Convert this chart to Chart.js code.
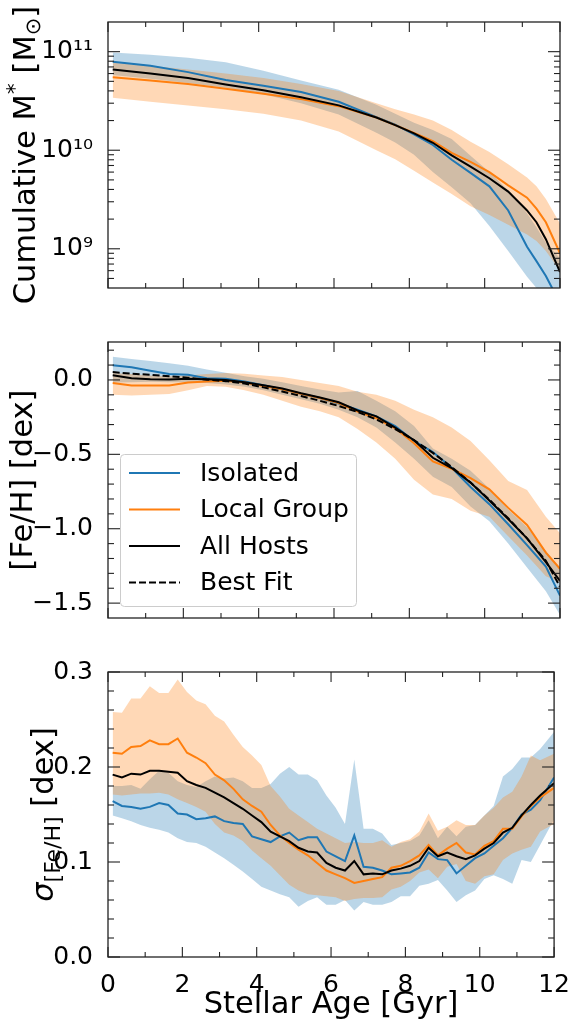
<!DOCTYPE html>
<html>
<head>
<meta charset="utf-8">
<title>Stellar age relations</title>
<script src="https://cdn.jsdelivr.net/npm/chart.js@4.4.1/dist/chart.umd.min.js"></script>
<style>
  body { margin: 0; background: #fff; }
  canvas { position: absolute; left: 0; }
</style>
</head>
<body>
<canvas id="massChart" width="575" height="310" style="top:0px"></canvas>
<canvas id="fehChart" width="575" height="320" style="top:320px"></canvas>
<canvas id="sigChart" width="575" height="373" style="top:650px"></canvas>
<script>
// ---- top panel : cumulative stellar mass (Msun)
const ageM = [0.125, 1.125, 2.125, 3.125, 4.125, 5.125, 6.125, 7.125, 7.625, 8.125, 8.625, 9.125, 9.625, 10.125, 10.625, 11.125, 11.375, 11.625, 12];
const massIso   = [7.9e10, 7.2e10, 6.2e10, 5.15e10, 4.5e10, 3.9e10, 3.1e10, 2.17e10, 1.82e10, 1.45e10, 1.13e10, 8.0e9, 5.9e9, 4.3e9, 2.45e9, 1.05e9, 7.5e8, 5.3e8, 2.8e8];
const massLG    = [5.5e10, 5.1e10, 4.7e10, 4.2e10, 3.75e10, 3.3e10, 2.8e10, 2.15e10, 1.8e10, 1.5e10, 1.24e10, 9.4e9, 7.6e9, 6.0e9, 4.4e9, 3.3e9, 2.55e9, 1.86e9, 9.0e8];
const massAll   = [6.6e10, 6.0e10, 5.4e10, 4.65e10, 4.05e10, 3.45e10, 2.85e10, 2.15e10, 1.8e10, 1.48e10, 1.19e10, 8.85e9, 6.8e9, 5.2e9, 3.8e9, 2.45e9, 1.86e9, 1.25e9, 5.8e8];
const massIsoHi = [9.8e10, 9.3e10, 8.7e10, 7.8e10, 6.4e10, 5.1e10, 4.1e10, 2.9e10, 2.35e10, 1.9e10, 1.6e10, 1.3e10, 8.8e9, 6.0e9, 3.9e9, 2.3e9, 1.65e9, 1.15e9, 8.0e8];
const massIsoLo = [5.8e10, 5.3e10, 4.8e10, 4.3e10, 3.7e10, 3.0e10, 2.3e10, 1.5e10, 1.2e10, 9.0e9, 6.0e9, 4.2e9, 2.9e9, 1.7e9, 9.5e8, 5.2e8, 4.0e8, 3.2e8, 2.5e8];
const massLGHi  = [7.7e10, 7.2e10, 6.6e10, 6.0e10, 5.4e10, 4.7e10, 4.0e10, 3.0e10, 2.6e10, 2.3e10, 2.0e10, 1.6e10, 1.22e10, 9.6e9, 7.2e9, 5.3e9, 4.3e9, 3.2e9, 1.8e9];
const massLGLo  = [3.4e10, 3.1e10, 2.85e10, 2.6e10, 2.35e10, 2.0e10, 1.55e10, 1.0e10, 8.1e9, 6.2e9, 4.7e9, 3.6e9, 2.7e9, 2.2e9, 1.75e9, 1.4e9, 1.2e9, 9.5e8, 6.0e8];

// ---- middle panel : [Fe/H]
const ageF = [0.125, 0.625, 1.125, 1.625, 2.125, 2.625, 3.125, 3.625, 4.125, 4.625, 5.125, 5.625, 6.125, 6.625, 7.125, 7.625, 8.125, 8.625, 9.125, 9.625, 10.125, 10.625, 11.125, 11.625, 12];
const fehIso   = [0.099, 0.085, 0.062, 0.040, 0.035, 0.012, 0.008, -0.010, -0.035, -0.062, -0.092, -0.122, -0.158, -0.200, -0.245, -0.310, -0.410, -0.485, -0.590, -0.720, -0.835, -0.970, -1.110, -1.255, -1.45];
const fehLG    = [-0.021, -0.038, -0.038, -0.038, -0.017, -0.011, -0.006, -0.017, -0.040, -0.062, -0.093, -0.122, -0.155, -0.213, -0.258, -0.325, -0.425, -0.548, -0.597, -0.660, -0.735, -0.860, -0.975, -1.160, -1.27];
const fehAll   = [0.032, 0.012, 0.005, 0.003, 0.008, 0.004, 0.000, -0.015, -0.035, -0.058, -0.090, -0.118, -0.150, -0.205, -0.245, -0.320, -0.405, -0.523, -0.592, -0.690, -0.810, -0.935, -1.065, -1.225, -1.35];
const fehFit   = [0.053, 0.042, 0.035, 0.025, 0.015, 0.002, -0.008, -0.024, -0.050, -0.078, -0.108, -0.140, -0.175, -0.215, -0.265, -0.330, -0.405, -0.490, -0.585, -0.690, -0.805, -0.930, -1.065, -1.215, -1.39];
const fehIsoHi = [0.156, 0.141, 0.128, 0.112, 0.095, 0.070, 0.048, 0.025, 0.008, -0.015, -0.040, -0.065, -0.085, -0.075, -0.140, -0.210, -0.310, -0.460, -0.530, -0.610, -0.730, -0.870, -0.990, -1.150, -1.26];
const fehIsoLo = [-0.017, -0.015, -0.012, -0.015, -0.015, -0.020, -0.030, -0.045, -0.070, -0.100, -0.130, -0.160, -0.200, -0.250, -0.320, -0.420, -0.530, -0.650, -0.720, -0.850, -0.950, -1.100, -1.260, -1.420, -1.58];
const fehLGHi  = [0.046, 0.040, 0.030, 0.025, 0.030, 0.040, 0.046, 0.042, 0.030, 0.020, 0.000, -0.020, -0.040, -0.080, -0.100, -0.140, -0.200, -0.250, -0.320, -0.410, -0.540, -0.680, -0.740, -0.920, -1.03];
const fehLGLo  = [-0.100, -0.105, -0.100, -0.095, -0.070, -0.040, -0.045, -0.070, -0.100, -0.140, -0.180, -0.210, -0.250, -0.330, -0.420, -0.530, -0.670, -0.770, -0.800, -0.880, -0.920, -1.050, -1.180, -1.320, -1.36];

// ---- bottom panel : sigma [Fe/H]
const ageS = [0.125, 0.375, 0.625, 0.875, 1.125, 1.375, 1.625, 1.875, 2.125, 2.375, 2.625, 2.875, 3.125, 3.375, 3.625, 3.875,
              4.125, 4.375, 4.625, 4.875, 5.125, 5.375, 5.625, 5.875, 6.125, 6.375, 6.625, 6.875, 7.125, 7.375, 7.625, 7.875,
              8.125, 8.375, 8.625, 8.875, 9.125, 9.375, 9.625, 9.875, 10.125, 10.375, 10.625, 10.875, 11.125, 11.375, 11.625, 12];
const sigIso = [0.164, 0.159, 0.158, 0.156, 0.158, 0.162, 0.160, 0.151, 0.150, 0.145, 0.146, 0.148, 0.143, 0.141, 0.140, 0.127,
                0.124, 0.121, 0.127, 0.131, 0.123, 0.126, 0.126, 0.111, 0.106, 0.101, 0.128, 0.095, 0.094, 0.091, 0.087, 0.088,
                0.089, 0.094, 0.110, 0.103, 0.102, 0.088, 0.096, 0.104, 0.109, 0.117, 0.125, 0.136, 0.150, 0.155, 0.165, 0.189];
const sigLG  = [0.215, 0.214, 0.221, 0.222, 0.228, 0.224, 0.224, 0.230, 0.215, 0.210, 0.204, 0.192, 0.186, 0.177, 0.166, 0.159,
                0.153, 0.139, 0.128, 0.120, 0.113, 0.107, 0.099, 0.091, 0.087, 0.083, 0.078, 0.080, 0.082, 0.084, 0.094, 0.096,
                0.101, 0.107, 0.118, 0.107, 0.114, 0.120, 0.110, 0.108, 0.117, 0.122, 0.135, 0.135, 0.148, 0.159, 0.168, 0.178];
const sigAll = [0.192, 0.189, 0.193, 0.192, 0.196, 0.196, 0.195, 0.194, 0.185, 0.181, 0.178, 0.173, 0.168, 0.162, 0.156, 0.149,
                0.142, 0.132, 0.127, 0.122, 0.115, 0.111, 0.110, 0.099, 0.094, 0.091, 0.101, 0.087, 0.088, 0.087, 0.091, 0.093,
                0.096, 0.101, 0.115, 0.106, 0.110, 0.106, 0.103, 0.107, 0.114, 0.120, 0.131, 0.136, 0.149, 0.160, 0.170, 0.183];
const sigIsoHi = [0.180, 0.180, 0.181, 0.177, 0.187, 0.196, 0.194, 0.185, 0.181, 0.179, 0.185, 0.190, 0.188, 0.189, 0.185, 0.178,
                  0.178, 0.182, 0.193, 0.200, 0.192, 0.192, 0.186, 0.170, 0.157, 0.140, 0.208, 0.135, 0.135, 0.130, 0.118, 0.120,
                  0.122, 0.128, 0.144, 0.125, 0.137, 0.127, 0.137, 0.139, 0.149, 0.159, 0.190, 0.198, 0.210, 0.210, 0.219, 0.237];
const sigIsoLo = [0.149, 0.146, 0.143, 0.139, 0.136, 0.134, 0.131, 0.125, 0.121, 0.120, 0.116, 0.110, 0.104, 0.097, 0.090, 0.082,
                  0.074, 0.070, 0.066, 0.063, 0.053, 0.059, 0.063, 0.055, 0.055, 0.060, 0.049, 0.058, 0.055, 0.055, 0.058, 0.064,
                  0.064, 0.075, 0.077, 0.081, 0.070, 0.058, 0.065, 0.070, 0.082, 0.086, 0.082, 0.077, 0.102, 0.100, 0.118, 0.145];
const sigLGHi  = [0.258, 0.257, 0.272, 0.272, 0.285, 0.278, 0.278, 0.292, 0.279, 0.270, 0.266, 0.254, 0.248, 0.234, 0.221, 0.212,
                  0.202, 0.180, 0.169, 0.156, 0.149, 0.142, 0.135, 0.130, 0.125, 0.120, 0.121, 0.120, 0.120, 0.123, 0.116, 0.121,
                  0.124, 0.132, 0.151, 0.133, 0.137, 0.144, 0.139, 0.139, 0.149, 0.157, 0.168, 0.174, 0.190, 0.212, 0.207, 0.214];
const sigLGLo  = [0.171, 0.170, 0.171, 0.172, 0.172, 0.173, 0.171, 0.166, 0.162, 0.158, 0.153, 0.140, 0.131, 0.128, 0.122, 0.112,
                  0.104, 0.096, 0.086, 0.076, 0.070, 0.066, 0.065, 0.064, 0.063, 0.059, 0.061, 0.062, 0.062, 0.063, 0.071, 0.074,
                  0.080, 0.089, 0.092, 0.083, 0.095, 0.098, 0.080, 0.077, 0.085, 0.087, 0.102, 0.109, 0.113, 0.116, 0.132, 0.140];

// tick values
const ageTicks = [0, 2, 4, 6, 8, 10, 12];
const ageMinor = [1, 3, 5, 7, 9, 11];
const massTicks = [1e9, 1e10, 1e11];
const massMinor = [5e8, 6e8, 7e8, 8e8, 9e8, 2e9, 3e9, 4e9, 5e9, 6e9, 7e9, 8e9, 9e9, 2e10, 3e10, 4e10, 5e10, 6e10, 7e10, 8e10, 9e10];
const fehTicks = [-1.5, -1.0, -0.5, 0.0];
const fehMinor = [-1.4, -1.3, -1.2, -1.1, -0.9, -0.8, -0.7, -0.6, -0.4, -0.3, -0.2, -0.1, 0.1, 0.2];
const sigTicks = [0.0, 0.1, 0.2, 0.3];
const sigMinor = [0.02, 0.04, 0.06, 0.08, 0.12, 0.14, 0.16, 0.18, 0.22, 0.24, 0.26, 0.28];

const BLUE = '#1f77b4', ORANGE = '#ff7f0e';
const FONT = 'DejaVu Sans';
const TICK = 25, LABEL = 30.5;
Chart.defaults.font.family = FONT;
Chart.defaults.color = '#000';

const pts = (xs, ys) => xs.map((x, i) => ({ x: x, y: ys[i] }));

function band(xs, lo, hi, rgb, order) {
  return [
    { data: pts(xs, lo), borderWidth: 0, borderColor: 'transparent', pointRadius: 0, fill: false, order: order },
    { data: pts(xs, hi), borderWidth: 0, borderColor: 'transparent', pointRadius: 0, fill: '-1',
      backgroundColor: 'rgba(' + rgb + ',0.3)', order: order }
  ];
}
function curve(xs, ys, color, order, label, dash) {
  return { label: label, data: pts(xs, ys), borderColor: color, borderWidth: 2, borderDash: dash || [],
           pointRadius: 0, fill: false, tension: 0, order: order };
}

// inward ticks on all four sides + frame
const frameTicks = {
  id: 'frameTicks',
  afterDatasetsDraw(chart, args, o) {
    const { ctx, chartArea: a, scales: { x, y } } = chart;
    ctx.save();
    ctx.strokeStyle = '#222';
    ctx.lineWidth = 1.1;
    const seg = (x1, y1, x2, y2) => { ctx.beginPath(); ctx.moveTo(x1, y1); ctx.lineTo(x2, y2); ctx.stroke(); };
    const xt = (vals, len) => vals.forEach(v => {
      const p = x.getPixelForValue(v);
      seg(p, a.bottom, p, a.bottom - len); seg(p, a.top, p, a.top + len);
    });
    const yt = (vals, len) => vals.forEach(v => {
      const p = y.getPixelForValue(v);
      seg(a.left, p, a.left + len, p); seg(a.right, p, a.right - len, p);
    });
    xt(o.xMajor, 10); xt(o.xMinor, 5);
    yt(o.yMajor, 12); yt(o.yMinor, 6);
    ctx.lineWidth = 1.3;
    ctx.strokeRect(a.left, a.top, a.right - a.left, a.bottom - a.top);
    ctx.restore();
  }
};

// rotated y label with sub / superscripts
const sideLabel = {
  id: 'sideLabel',
  afterDraw(chart, args, o) {
    if (!o.parts) return;
    const { ctx, chartArea: a } = chart;
    ctx.save();
    ctx.translate(o.x, (a.top + a.bottom) / 2);
    ctx.rotate(-Math.PI / 2);
    ctx.fillStyle = '#000';
    ctx.textBaseline = 'alphabetic';
    const f = p => (p.italic ? 'italic ' : '') + p.size + 'px "' + FONT + '"';
    let total = 0;
    o.parts.forEach(p => { ctx.font = f(p); total += ctx.measureText(p.text).width; });
    let cx = -total / 2;
    o.parts.forEach(p => {
      ctx.font = f(p);
      ctx.fillText(p.text, cx, o.base + (p.dy || 0));
      cx += ctx.measureText(p.text).width;
    });
    ctx.restore();
  }
};

// framed legend inside the middle panel
const boxLegend = {
  id: 'boxLegend',
  afterDraw(chart, args, o) {
    if (!o.show) return;
    const { ctx, chartArea: a } = chart;
    const items = chart.data.datasets.filter(d => d.label);
    const x0 = a.left + o.left, y0 = a.bottom - o.bottom - o.height;
    ctx.save();
    ctx.beginPath();
    ctx.roundRect(x0 + 0.5, y0 + 0.5, o.width, o.height, 4);
    ctx.fillStyle = 'rgba(255,255,255,0.8)';
    ctx.fill();
    ctx.strokeStyle = '#cccccc';
    ctx.lineWidth = 1;
    ctx.stroke();
    ctx.font = TICK + 'px "' + FONT + '"';
    ctx.textBaseline = 'middle';
    items.forEach((d, i) => {
      const yy = y0 + o.first + i * o.step;
      ctx.strokeStyle = d.borderColor;
      ctx.lineWidth = d.borderWidth;
      ctx.setLineDash(d.borderDash);
      ctx.beginPath(); ctx.moveTo(x0 + 9, yy); ctx.lineTo(x0 + 60, yy); ctx.stroke();
      ctx.setLineDash([]);
      ctx.fillStyle = '#000';
      ctx.fillText(d.label, x0 + 80, yy + 1);
    });
    ctx.restore();
  }
};

const SUP = { '0': '\u2070', '1': '\u00b9', '2': '\u00b2', '3': '\u00b3', '4': '\u2074', '5': '\u2075', '6': '\u2076', '7': '\u2077', '8': '\u2078', '9': '\u2079' };
const minus = v => (Math.abs(v) < 1e-9 ? '0.0' : v.toFixed(1).replace('-', '\u2212'));

function xScale(showLabels, height) {
  return {
    type: 'linear', min: 0, max: 12,
    grid: { display: false }, border: { display: false },
    afterBuildTicks: s => { s.ticks = ageTicks.map(v => ({ value: v })); },
    afterFit: s => { s.height = height; },
    ticks: { display: showLabels, padding: 5, font: { size: TICK }, callback: v => String(v) },
    title: { display: showLabels, text: 'Stellar Age [Gyr]', font: { size: LABEL }, padding: { top: 0, bottom: 0 } }
  };
}
function yBase(extra) {
  return Object.assign({
    grid: { display: false }, border: { display: false },
    afterFit: s => { s.width = 108; }
  }, extra);
}
function baseOptions(padTop, padBottom, scales, plugins) {
  return {
    responsive: false, animation: false, events: [],
    layout: { padding: { top: padTop, right: 15, bottom: padBottom, left: 0 } },
    scales: scales,
    plugins: Object.assign({ legend: { display: false }, tooltip: { enabled: false }, filler: { drawTime: 'beforeDatasetsDraw' } }, plugins)
  };
}

// ---- top: cumulative mass
new Chart(document.getElementById('massChart'), {
  type: 'line',
  data: { datasets: [
    ...band(ageM, massIsoLo, massIsoHi, '31,119,180', 5),
    ...band(ageM, massLGLo, massLGHi, '255,127,14', 4),
    curve(ageM, massIso, BLUE, 3),
    curve(ageM, massLG, ORANGE, 2),
    curve(ageM, massAll, '#000', 1)
  ] },
  options: baseOptions(5, 13, {
    x: xScale(false, 0),
    y: yBase({
      type: 'logarithmic', min: 4e8, max: 2e11,
      afterBuildTicks: s => { s.ticks = massTicks.map(v => ({ value: v })); },
      ticks: { padding: 7, font: { size: TICK },
        callback: v => '10' + String(Math.round(Math.log10(v))).split('').map(d => SUP[d]).join('') }
    })
  }, {
    frameTicks: { xMajor: ageTicks, xMinor: ageMinor, yMajor: massTicks, yMinor: massMinor },
    sideLabel: { x: 24, base: 11, parts: [
      { text: 'Cumulative M', size: LABEL }, { text: '*', size: 22, dy: -13 },
      { text: ' [M', size: LABEL }, { text: '\u2299', size: 21, dy: 5 }, { text: ']', size: LABEL }
    ] }
  }),
  plugins: [frameTicks, sideLabel]
});

// ---- middle: [Fe/H]
new Chart(document.getElementById('fehChart'), {
  type: 'line',
  data: { datasets: [
    ...band(ageF, fehIsoLo, fehIsoHi, '31,119,180', 6),
    ...band(ageF, fehLGLo, fehLGHi, '255,127,14', 5),
    curve(ageF, fehIso, BLUE, 4, 'Isolated'),
    curve(ageF, fehLG, ORANGE, 3, 'Local Group'),
    curve(ageF, fehAll, '#000', 2, 'All Hosts'),
    curve(ageF, fehFit, '#000', 1, 'Best Fit', [7, 3])
  ] },
  options: baseOptions(14, 13, {
    x: xScale(false, 0),
    y: yBase({
      type: 'linear', min: -1.6, max: 0.255,
      afterBuildTicks: s => { s.ticks = fehTicks.map(v => ({ value: v })); },
      ticks: { padding: 7, font: { size: TICK }, callback: v => minus(v) },
      title: { display: true, text: '[Fe/H] [dex]', font: { size: LABEL }, padding: { top: 6, bottom: 0 } }
    })
  }, {
    frameTicks: { xMajor: ageTicks, xMinor: ageMinor, yMajor: fehTicks, yMinor: fehMinor },
    boxLegend: { show: true, left: 12, bottom: 12, width: 236, height: 152, first: 19, step: 36.5 }
  }),
  plugins: [frameTicks, boxLegend]
});

// ---- bottom: sigma [Fe/H]
new Chart(document.getElementById('sigChart'), {
  type: 'line',
  data: { datasets: [
    ...band(ageS, sigIsoLo, sigIsoHi, '31,119,180', 5),
    ...band(ageS, sigLGLo, sigLGHi, '255,127,14', 4),
    curve(ageS, sigIso, BLUE, 3),
    curve(ageS, sigLG, ORANGE, 2),
    curve(ageS, sigAll, '#000', 1)
  ] },
  options: baseOptions(14, 0, {
    x: xScale(true, 66),
    y: yBase({
      type: 'linear', min: 0, max: 0.3,
      afterBuildTicks: s => { s.ticks = sigTicks.map(v => ({ value: v })); },
      ticks: { padding: 7, font: { size: TICK }, callback: v => v.toFixed(1) }
    })
  }, {
    frameTicks: { xMajor: ageTicks, xMinor: ageMinor, yMajor: sigTicks, yMinor: sigMinor },
    sideLabel: { x: 42, base: 11, parts: [
      { text: '\u03c3', size: LABEL, italic: true }, { text: '[Fe/H]', size: 22, dy: 7 },
      { text: ' [dex]', size: LABEL }
    ] }
  }),
  plugins: [frameTicks, sideLabel]
});
</script>
</body>
</html>
